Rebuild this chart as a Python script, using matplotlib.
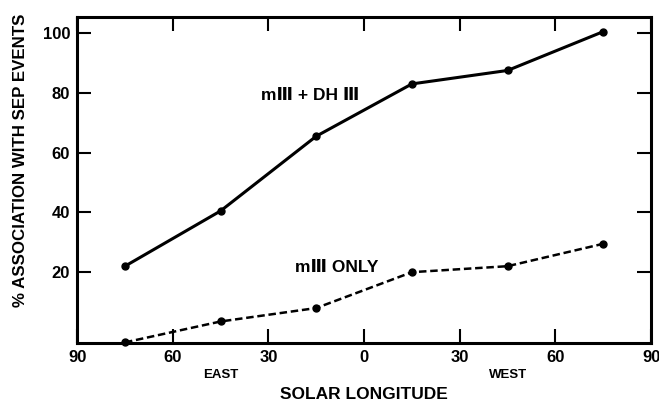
import matplotlib.pyplot as plt

plt.rcParams['font.family'] = ['Liberation Sans', 'DejaVu Sans']

longitude = [-75, -45, -15, 15, 45, 75]
m3_dh3 = [22, 40.5, 65.5, 83, 87.5, 100.5]
m3_only = [-3.5, 3.5, 8, 20, 22, 29.5]
xticks = [-90, -60, -30, 0, 30, 60, 90]
yticks = [20, 40, 60, 80, 100]

fig = plt.figure(figsize=(6.59, 4.04), dpi=100)
ax = fig.add_axes([0.117, 0.151, 0.871, 0.807])

ax.plot(longitude, m3_dh3, color='black', lw=2.2, marker='o', ms=5, clip_on=False)
ax.plot(longitude, m3_only, color='black', lw=1.8, ls=(0, (3, 1.5)), marker='o', ms=5,
        clip_on=False)

ax.set_xlim(-90, 90)
ax.set_ylim(-3.7, 105.4)
ax.set_xticks(xticks)
ax.set_xticklabels([str(abs(t)) for t in xticks])
ax.set_yticks(yticks)

for s in ax.spines.values():
    s.set_linewidth(2.2)
ax.tick_params(direction='in', length=10, width=1.5, top=True, right=True,
               labelsize=12, pad=5)
for lab in ax.get_xticklabels() + ax.get_yticklabels():
    lab.set_fontweight('bold')

ax.text(-17, 79, 'm\u2162 + DH \u2162', fontsize=12.5, fontweight='bold', ha='center', va='center')
ax.text(-8.5, 21.7, 'm\u2162 ONLY', fontsize=12.5, fontweight='bold', ha='center', va='center')

ax.text(-45, -14.5, 'EAST', fontsize=9.5, fontweight='bold', ha='center', va='center')
ax.text(45, -14.5, 'WEST', fontsize=9.5, fontweight='bold', ha='center', va='center')
ax.set_xlabel('SOLAR LONGITUDE', fontsize=12.5, fontweight='bold', labelpad=16)
ax.set_ylabel('% ASSOCIATION WITH SEP EVENTS', fontsize=12.2, fontweight='bold')
ax.yaxis.set_label_coords(-0.085, 0.56)

plt.savefig('out.png', dpi=100)
